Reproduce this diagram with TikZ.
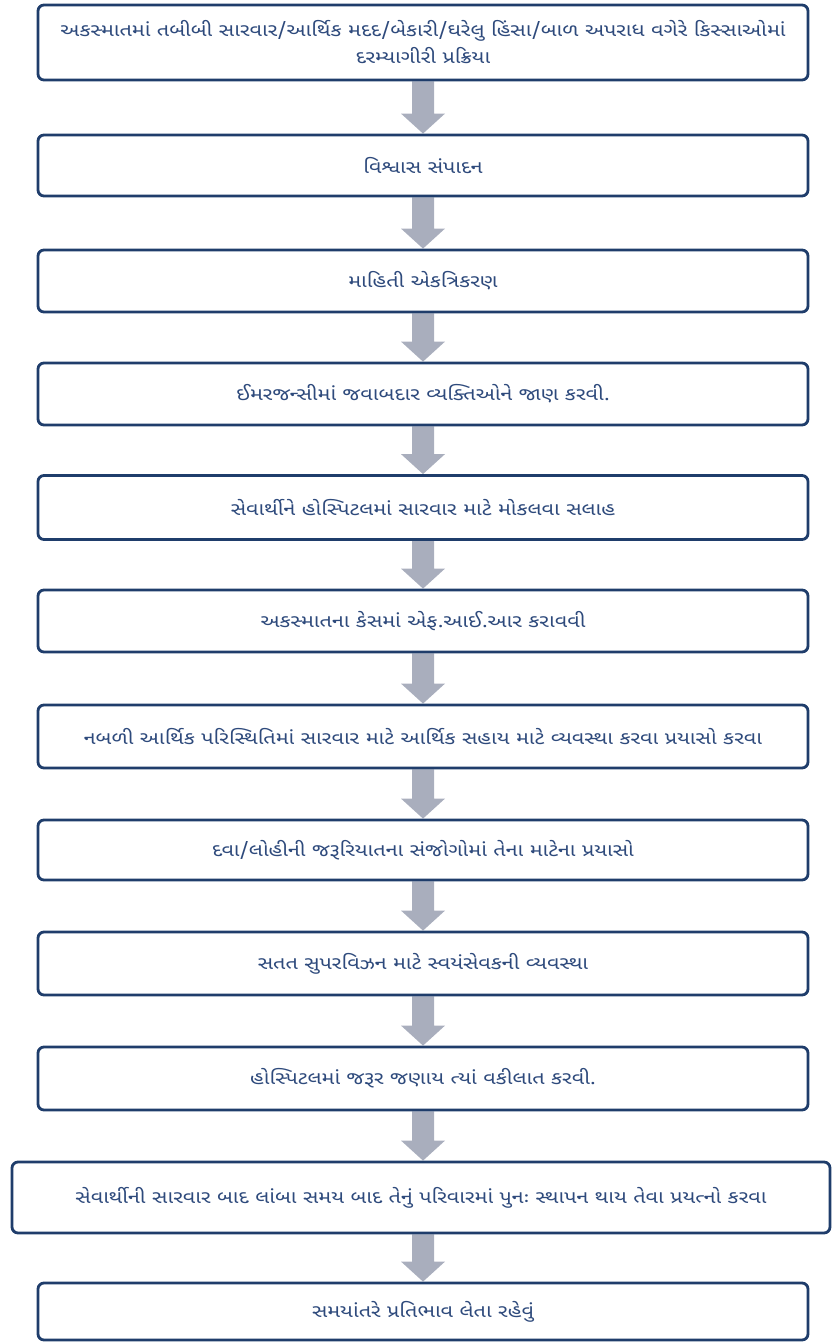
\documentclass[tikz,border=0pt]{standalone}
\usepackage{fontspec}
\newfontfamily\guj[Script=Gujarati,FakeStretch=1.2]{Noto Sans Gujarati UI}
\usetikzlibrary{calc,backgrounds}
\definecolor{boxborder}{HTML}{1F3D6B}
\definecolor{boxtext}{HTML}{2E4A7C}
\definecolor{arrowc}{HTML}{A9AEBD}
\tikzset{
  stepbox/.style={draw=boxborder, line width=2.8pt, rounded corners=6pt, fill=white,
    text=boxtext, font=\guj\fontsize{18}{27}\selectfont, align=center, inner sep=0pt},
}
\begin{document}
\begin{tikzpicture}[x=1pt,y=-1pt]
\useasboundingbox (0,0) rectangle (837,1342);
\node[stepbox, minimum width=770, minimum height=75] (b1) at (423,42.5) {અકસ્માતમાં તબીબી સારવાર/આર્થિક મદદ/બેકારી/ઘરેલુ હિંસા/બાળ અપરાધ વગેરે કિસ્સાઓમાં\\દરમ્યાગીરી પ્રક્રિયા};
\node[stepbox, minimum width=770, minimum height=61] (b2) at (423,165.5) {વિશ્વાસ સંપાદન};
\node[stepbox, minimum width=770, minimum height=62] (b3) at (423,281) {માહિતી એકત્રિકરણ};
\node[stepbox, minimum width=770, minimum height=62] (b4) at (423,394) {ઈમરજન્સીમાં જવાબદાર વ્યક્તિઓને જાણ કરવી.};
\node[stepbox, minimum width=770, minimum height=64] (b5) at (423,507.5) {સેવાર્થીને હોસ્પિટલમાં સારવાર માટે મોકલવા સલાહ};
\node[stepbox, minimum width=770, minimum height=62] (b6) at (423,621) {અકસ્માતના કેસમાં એફ.આઈ.આર કરાવવી};
\node[stepbox, minimum width=770, minimum height=63] (b7) at (423,736.5) {નબળી આર્થિક પરિસ્થિતિમાં સારવાર માટે આર્થિક સહાય માટે વ્યવસ્થા કરવા પ્રયાસો કરવા};
\node[stepbox, minimum width=770, minimum height=60] (b8) at (423,850) {દવા/લોહીની જરૂરિયાતના સંજોગોમાં તેના માટેના પ્રયાસો};
\node[stepbox, minimum width=770, minimum height=63] (b9) at (423,963.5) {સતત સુપરવિઝન માટે સ્વયંસેવકની વ્યવસ્થા};
\node[stepbox, minimum width=770, minimum height=63] (b10) at (423,1078.5) {હોસ્પિટલમાં જરૂર જણાય ત્યાં વકીલાત કરવી.};
\node[stepbox, minimum width=818, minimum height=71] (b11) at (421,1197.5) {સેવાર્થીની સારવાર બાદ લાંબા સમય બાદ તેનું પરિવારમાં પુનઃ સ્થાપન થાય તેવા પ્રયત્નો કરવા};
\node[stepbox, minimum width=770, minimum height=57] (b12) at (423,1311.5) {સમયાંતરે પ્રતિભાવ લેતા રહેવું};
\begin{pgfonlayer}{background}
\foreach \a/\b in {b1/b2,b2/b3,b3/b4,b4/b5,b5/b6,b6/b7,b7/b8,b8/b9,b9/b10,b10/b11,b11/b12}{
  \coordinate (s) at (\a.south -| b1.south);
  \coordinate (t) at (\b.north -| b1.south);
  \fill[arrowc] ($(s)+(-11,0)$) -- ($(t)+(-11,-20)$) -- ($(t)+(-22,-20)$)
    -- (t) -- ($(t)+(22,-20)$) -- ($(t)+(11,-20)$) -- ($(s)+(11,0)$) -- cycle;
}
\end{pgfonlayer}
\end{tikzpicture}
\end{document}
